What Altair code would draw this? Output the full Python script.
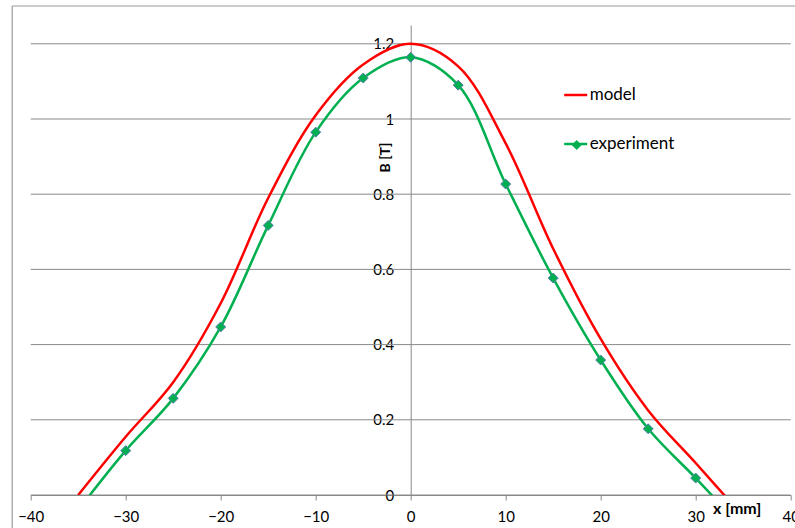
import altair as alt
import pandas as pd

# ---- data ----
x_model = [-35, -30, -25, -20, -15, -10, -5, 0, 5, 10, 15, 20, 25, 30, 35]
b_model = [0.0, 0.155, 0.30, 0.51, 0.79, 1.01, 1.145, 1.20, 1.14, 0.935, 0.655, 0.415, 0.225, 0.085, -0.057]

x_exp = [-35, -30, -25, -20, -15, -10, -5, 0, 5, 10, 15, 20, 25, 30, 35]
b_exp = [-0.04, 0.118, 0.257, 0.447, 0.717, 0.965, 1.109, 1.164, 1.090, 0.827, 0.577, 0.359, 0.176, 0.045, -0.09]

series_names = ["model", "experiment"]
series_colors = ["#ff0000", "#00b050"]

x_ticks = [-40, -30, -20, -10, 0, 10, 20, 30, 40]
y_ticks = [0, 0.2, 0.4, 0.6, 0.8, 1.0, 1.2]

FONT = "Lato"
GRID = "#898989"

df = pd.concat([
    pd.DataFrame({"x": x_model, "B": b_model, "series": "model"}),
    pd.DataFrame({"x": x_exp, "B": b_exp, "series": "experiment"}),
])
df_exp = pd.DataFrame({"x": x_exp, "B": b_exp, "marker": "experiment"})
df_grid = pd.DataFrame({"g": y_ticks})
df_one = pd.DataFrame({"k": [0]})

xscale = alt.Scale(domain=[-40, 40], nice=False, zero=False)
yscale = alt.Scale(domain=[0, 1.25], nice=False)

xaxis = alt.Axis(
    values=x_ticks, title="x [mm]", grid=False,
    domainColor=GRID, tickColor=GRID, tickSize=5,
    labelFont=FONT, labelFontSize=15, labelColor="#000", labelPadding=9,
    labelFlush=False, labelOverlap=False,
    titleFont=FONT, titleFontSize=16, titleFontWeight="bold", titleColor="#000",
    titleX=706, titleY=13, titleAlign="center", titleBaseline="middle",
)
yaxis = alt.Axis(
    values=y_ticks, format="~g", offset=-380, grid=False, ticks=False,
    domainColor=GRID,
    labelFont=FONT, labelFontSize=15, labelColor="#000", labelPadding=17,
    labelFlush=False, labelOverlap=False,
    title="B [T]", titleFont=FONT, titleFontSize=14, titleFontWeight="bold",
    titleColor="#000", titleX=-25.7, titleY=132, titleAngle=270,
    titleAlign="center", titleBaseline="middle",
)

X = lambda: alt.X("x:Q", scale=xscale, axis=xaxis)

grid = alt.Chart(df_grid).mark_rule(color=GRID, strokeWidth=1).encode(
    y=alt.Y("g:Q", scale=yscale, axis=yaxis),
    x=alt.value(0), x2=alt.value(760),
)

frame_left = alt.Chart(df_one).mark_rule(color="#9a9a9a", strokeWidth=1.2).encode(
    x=alt.value(-18.5), y=alt.value(-19), y2=alt.value(520),
)
frame_top = alt.Chart(df_one).mark_rule(color="#9a9a9a", strokeWidth=1.2).encode(
    x=alt.value(-18.5), x2=alt.value(780), y=alt.value(-19),
)

lines = alt.Chart(df).mark_line(interpolate="catmull-rom", strokeWidth=2.5, clip=True).encode(
    x=X(),
    y=alt.Y("B:Q", scale=yscale, axis=yaxis),
    color=alt.Color(
        "series:N",
        scale=alt.Scale(domain=series_names, range=series_colors),
        legend=alt.Legend(
            title=None, orient="none", legendX=532, legendY=57,
            symbolType="stroke", symbolSize=529, symbolStrokeWidth=2.5,
            labelFont=FONT, labelFontSize=17, labelColor="#000",
            rowPadding=28, labelOffset=1,
        ),
    ),
)

points = alt.Chart(df_exp).mark_point(
    filled=True, size=100, fill="#00b050", stroke="#5b7fae", strokeWidth=1,
    opacity=1, clip=True,
).encode(
    x=X(),
    y=alt.Y("B:Q", scale=yscale, axis=yaxis),
    shape=alt.Shape(
        "marker:N",
        scale=alt.Scale(domain=["experiment"], range=["diamond"]),
        legend=alt.Legend(
            title=None, orient="none", legendX=540.5, legendY=114.5,
            labelExpr="''", symbolSize=100, symbolFillColor="#00b050",
            symbolStrokeColor="#5b7fae", symbolStrokeWidth=1, symbolOpacity=1,
        ),
    ),
)

chart = alt.layer(grid, frame_left, frame_top, lines, points).properties(
    width=760, height=470,
    autosize=alt.AutoSizeParams(type="none"),
    padding={"left": 30.7, "top": 25, "right": 4.3, "bottom": 33},
    background="#ffffff",
).configure_view(stroke=None)

chart.save("out.html", embed_options={"renderer": "svg", "actions": False})
